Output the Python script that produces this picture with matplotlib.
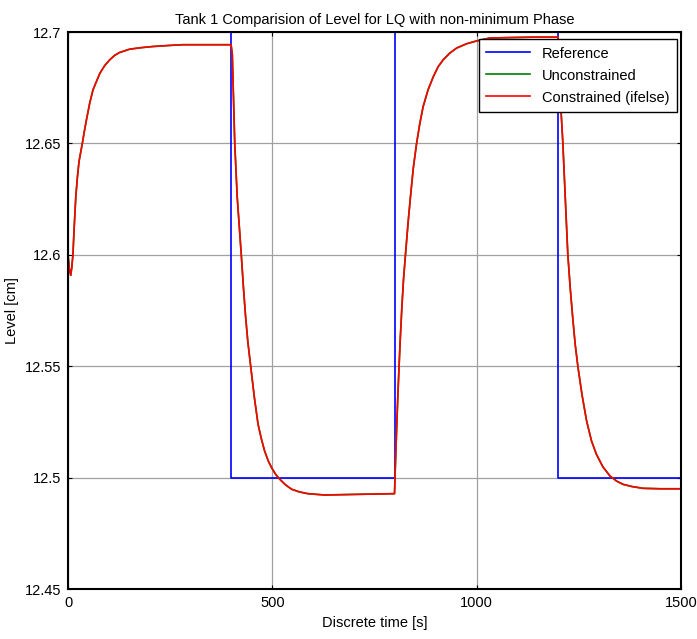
import matplotlib
matplotlib.use("Agg")
import matplotlib.pyplot as plt

plt.rcParams['font.family'] = ['Liberation Sans Narrow', 'Liberation Sans', 'DejaVu Sans']

# reference setpoint (step changes)
ref_t = [0, 400, 800, 1200, 1500]
ref_level = [12.7, 12.5, 12.7, 12.5, 12.5]

# tank 1 level response
t = [0, 3, 6.6, 9, 12, 15, 19, 23, 27, 31, 35, 40, 45, 53, 61, 70, 78, 90, 102, 114, 126, 151, 180, 208, 250, 281, 340, 399,
     402, 405, 408, 414, 419, 424, 429, 434, 440, 447, 456, 465, 473, 481, 490, 498, 508, 518, 532, 547, 566, 587, 628, 710, 799,
     801, 804, 807, 810, 813, 817, 821, 826, 832, 838, 845, 853, 861, 869, 881, 894, 906, 918, 934, 951, 975, 1000, 1032, 1080, 1138, 1199,
     1201, 1203, 1207, 1211, 1217, 1223, 1229, 1235, 1241, 1248, 1258, 1269, 1281, 1293, 1309, 1326, 1342, 1358, 1380, 1407, 1450, 1500]
level = [12.6, 12.594, 12.5908, 12.594, 12.6, 12.612, 12.626, 12.635, 12.642, 12.646, 12.65, 12.6555, 12.6605, 12.668, 12.674, 12.678,
         12.6815, 12.685, 12.6875, 12.6895, 12.6908, 12.6923, 12.693, 12.6935, 12.694, 12.6943, 12.6943, 12.6943,
         12.69, 12.67, 12.65, 12.626, 12.613, 12.6, 12.586, 12.5735, 12.561, 12.55, 12.536, 12.524, 12.5175, 12.512, 12.5075,
         12.5045, 12.5015, 12.4993, 12.4968, 12.4948, 12.4936, 12.4928, 12.4922, 12.4925, 12.4928,
         12.505, 12.521, 12.536, 12.5495, 12.562, 12.5765, 12.589, 12.6005, 12.614, 12.626, 12.639, 12.65, 12.659, 12.6665,
         12.674, 12.68, 12.6845, 12.6875, 12.6905, 12.6928, 12.6947, 12.696, 12.6973, 12.6975, 12.6977, 12.6977,
         12.692, 12.68, 12.663, 12.65, 12.625, 12.6005, 12.585, 12.572, 12.56, 12.5495, 12.537, 12.5255, 12.5165, 12.5105,
         12.5048, 12.5008, 12.4985, 12.497, 12.496, 12.4952, 12.495, 12.495]
level_unc = list(level)

fig = plt.figure(figsize=(6.97, 6.39), dpi=100)
ax = fig.add_axes([0.0976, 0.0782, 0.8794, 0.8717])

ax.step(ref_t, ref_level, where='post', color='blue', lw=1.2, label='Reference')
ax.plot(t, level_unc, color=(0, 0.5, 0), lw=1.2, label='Unconstrained')
ax.plot(t, level, color='red', lw=1.2, label='Constrained (ifelse)')

ax.set_xlim(0, 1500)
ax.set_ylim(12.45, 12.7)
ax.set_xticks([0, 500, 1000, 1500])
ax.set_yticks([12.45, 12.5, 12.55, 12.6, 12.65, 12.7])
ax.set_yticklabels(['12.45', '12.5', '12.55', '12.6', '12.65', '12.7'])
ax.grid(True, color='#a0a0a0', lw=0.9)
ax.tick_params(direction='in', length=3, labelsize=10.5, top=True, right=True, pad=5)
for s in ax.spines.values():
    s.set_linewidth(1.5)

ax.set_title('Tank 1 Comparision of Level for LQ with non-minimum Phase', fontsize=10.5, pad=6)
ax.set_xlabel('Discrete time [s]', fontsize=10.5, labelpad=4)
ax.set_ylabel('Level [cm]', fontsize=10.5, labelpad=4)

leg = ax.legend(loc='upper right', bbox_to_anchor=(0.993, 0.987), borderaxespad=0,
                fancybox=False, framealpha=1, edgecolor='black', fontsize=10.5,
                handlelength=3.0, labelspacing=0.55, borderpad=0.5)
leg.get_frame().set_linewidth(1.0)

fig.savefig('out.png', dpi=100)
